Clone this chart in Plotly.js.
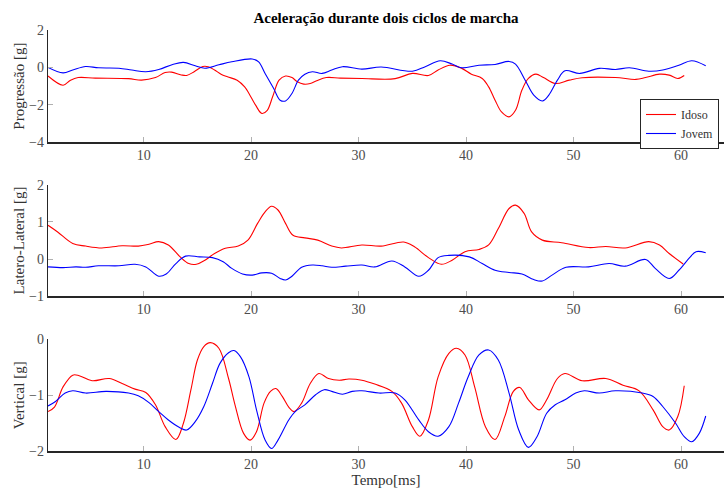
<!DOCTYPE html>
<html>
<head>
<meta charset="utf-8">
<script src="https://cdn.plot.ly/plotly-3.0.1.min.js"></script>
<style>html,body{margin:0;padding:0;background:#fff;}#chart{width:724px;height:490px;}</style>
</head>
<body>
<div id="chart"></div>
<script>
// ---- Data ----
const progIdosoX = [1.1,2.5,3.2,3.9,5.5,8.6,9.8,11.1,12.0,12.6,13.5,14.0,14.7,15.5,16.0,16.6,17.2,17.8,18.7,19.4,19.8,20.4,21.0,21.5,22.0,22.6,23.2,23.8,24.3,24.9,25.5,26.1,27.0,28.3,30.3,33.4,35.0,36.5,37.4,38.5,39.6,40.5,41.5,42.1,42.7,43.3,44.0,44.6,45.2,45.8,46.5,47.2,48.3,49.6,50.8,53.9,55.8,56.7,58.0,58.9,59.7,60.3];
const progIdosoY = [-0.46,-0.95,-0.68,-0.54,-0.57,-0.6,-0.68,-0.54,-0.27,-0.25,-0.4,-0.43,-0.23,0.05,0.04,-0.14,-0.36,-0.5,-0.68,-1.04,-1.39,-2.0,-2.46,-2.29,-1.57,-0.68,-0.46,-0.54,-0.77,-0.89,-0.86,-0.71,-0.54,-0.57,-0.59,-0.6,-0.32,-0.43,-0.14,0.12,-0.05,-0.36,-0.59,-1.04,-1.75,-2.38,-2.64,-2.29,-1.21,-0.59,-0.36,-0.54,-0.86,-0.68,-0.55,-0.54,-0.64,-0.54,-0.36,-0.41,-0.59,-0.43];
const progJovemX = [1.1,2.5,3.4,4.6,5.8,7.7,8.9,10.2,11.4,12.7,13.7,14.8,15.7,17.0,18.2,20.1,20.7,21.3,22.1,22.7,23.2,23.8,24.4,25.0,25.7,26.6,27.5,28.5,30.3,32.1,35.0,36.2,37.6,38.7,39.6,41.2,42.7,44.0,44.6,45.5,46.3,47.1,47.7,48.5,49.2,50.6,52.4,53.9,55.2,57.0,58.3,59.8,61.0,62.3];
const progJovemY = [0,-0.29,-0.14,0.05,-0.02,-0.04,-0.14,-0.23,-0.11,0.16,0.27,0.09,-0.04,0.14,0.3,0.45,0.3,-0.32,-1.13,-1.75,-1.79,-1.39,-0.68,-0.36,-0.23,-0.32,-0.14,0.04,-0.09,0.02,-0.2,0.04,0.36,0.18,-0.02,0.12,0.16,0.32,0.18,-0.68,-1.48,-1.79,-1.48,-0.68,-0.18,-0.32,-0.05,-0.11,-0.02,-0.2,-0.14,0.12,0.36,0.09];

const latIdosoX = [1.1,2.0,3.4,4.6,6.1,8.0,9.5,10.5,11.4,12.3,13.4,14.2,14.9,15.7,16.6,17.6,18.8,19.7,20.6,21.3,21.9,22.5,23.2,23.9,25.0,26.2,27.5,28.4,30.3,32.1,34.2,35.2,36.5,37.7,38.7,39.9,41.2,42.1,43.0,44.0,44.6,45.4,46.1,47.1,48.9,51.4,53.0,54.8,57.0,58.0,58.9,60.2];
const latIdosoY = [0.91,0.73,0.42,0.35,0.3,0.36,0.35,0.4,0.47,0.38,0.06,-0.12,-0.14,-0.03,0.15,0.29,0.35,0.51,0.96,1.27,1.42,1.32,0.96,0.64,0.57,0.51,0.35,0.3,0.38,0.35,0.46,0.33,0.04,-0.14,-0.03,0.2,0.26,0.38,0.82,1.36,1.45,1.23,0.73,0.51,0.44,0.31,0.34,0.3,0.47,0.38,0.15,-0.13];
const latJovemX = [1.1,2.5,3.7,4.6,5.8,7.7,9.2,10.2,11.4,12.1,13.0,13.9,15.2,16.4,17.4,18.2,19.2,20.1,21.0,21.9,22.7,23.2,23.8,24.7,25.7,26.6,27.5,28.8,30.3,31.5,33.1,34.3,35.6,36.5,37.4,38.4,40.3,41.5,42.7,44.0,45.2,46.3,47.1,48.0,49.3,51.4,53.3,54.8,56.7,57.6,58.9,59.8,60.8,61.4,62.3];
const latJovemY = [-0.21,-0.23,-0.21,-0.22,-0.18,-0.18,-0.14,-0.21,-0.46,-0.4,-0.12,0.08,0.06,0.04,-0.07,-0.25,-0.4,-0.43,-0.37,-0.38,-0.52,-0.56,-0.46,-0.22,-0.16,-0.18,-0.22,-0.19,-0.16,-0.21,-0.05,-0.21,-0.46,-0.3,0.04,0.1,0.06,-0.12,-0.3,-0.36,-0.4,-0.55,-0.59,-0.43,-0.22,-0.21,-0.12,-0.19,-0.01,-0.25,-0.52,-0.3,0.04,0.2,0.17];

const vertIdosoX = [1.1,1.7,2.5,3.4,4.0,5.2,6.8,8.0,9.2,10.2,11.1,12.0,13.0,13.7,14.4,15.0,15.6,16.2,17.0,17.9,18.5,19.3,19.9,20.5,21.2,21.8,22.3,22.9,23.5,24.0,24.7,25.5,26.3,27.2,28.2,29.1,30.3,31.5,33.1,34.0,35.0,35.7,36.5,37.4,38.4,39.1,39.9,40.8,41.8,42.7,43.6,44.4,45.0,45.8,46.8,47.5,48.5,49.2,50.8,53.0,54.6,56.1,57.4,58.3,58.9,59.7,60.3];
const vertIdosoY = [-1.29,-1.21,-0.85,-0.64,-0.65,-0.74,-0.7,-0.79,-0.89,-0.95,-1.17,-1.56,-1.79,-1.5,-0.9,-0.37,-0.13,-0.06,-0.16,-0.7,-1.17,-1.68,-1.8,-1.65,-1.14,-0.93,-0.88,-1.02,-1.21,-1.29,-1.14,-0.79,-0.61,-0.7,-0.73,-0.71,-0.73,-0.8,-0.93,-1.14,-1.56,-1.73,-1.44,-0.67,-0.25,-0.16,-0.28,-0.85,-1.56,-1.79,-1.38,-0.93,-0.86,-1.08,-1.26,-1.08,-0.7,-0.61,-0.74,-0.7,-0.82,-0.92,-1.26,-1.56,-1.62,-1.38,-0.83];
const vertJovemX = [1.1,1.8,2.7,3.4,4.6,6.5,8.6,9.5,10.5,11.4,12.3,13.3,14.0,14.8,15.6,16.4,17.1,17.9,18.4,19.0,19.8,20.5,21.3,21.9,22.5,23.5,24.1,25.0,26.0,26.8,27.5,28.5,29.4,30.3,31.9,33.4,34.3,35.6,36.5,37.4,38.4,39.3,40.2,41.2,42.1,43.0,44.0,44.9,45.8,46.6,47.5,48.3,49.2,50.2,51.0,52.4,53.9,56.4,57.4,58.3,59.5,60.3,61.0,61.7,62.3];
const vertJovemY = [-1.19,-1.11,-0.96,-0.92,-0.96,-0.93,-0.96,-1.01,-1.13,-1.29,-1.44,-1.57,-1.62,-1.47,-1.2,-0.79,-0.43,-0.24,-0.2,-0.31,-0.67,-1.26,-1.8,-1.95,-1.8,-1.44,-1.29,-1.17,-0.99,-0.9,-0.93,-0.98,-0.93,-0.92,-0.96,-0.96,-1.08,-1.44,-1.65,-1.73,-1.56,-1.14,-0.67,-0.28,-0.19,-0.37,-0.96,-1.62,-1.93,-1.74,-1.32,-1.17,-1.08,-0.96,-0.92,-0.96,-0.92,-0.96,-1.02,-1.2,-1.5,-1.74,-1.83,-1.68,-1.37];

const xTicks = [10,20,30,40,50,60];
const seriesNames = ['Idoso','Jovem'];
const titleText = 'Aceleração durante dois ciclos de marcha';
const yTitles = ['Progressão [g]','Latero-Lateral [g]','Vertical [g]'];
const xTitle = 'Tempo[ms]';

// ---- Build traces ----
const RED = '#ff0000', BLUE = '#0000ff';
function tr(x, y, name, color, xa, ya, show) {
  return {x: x, y: y, name: name, type: 'scatter', mode: 'lines',
    line: {color: color, width: 1.1, shape: 'spline', smoothing: 1},
    xaxis: xa, yaxis: ya, showlegend: show, hoverinfo: 'skip'};
}
const data = [
  tr(progIdosoX, progIdosoY, seriesNames[0], RED, 'x', 'y', true),
  tr(progJovemX, progJovemY, seriesNames[1], BLUE, 'x', 'y', true),
  tr(latIdosoX, latIdosoY, seriesNames[0], RED, 'x2', 'y2', false),
  tr(latJovemX, latJovemY, seriesNames[1], BLUE, 'x2', 'y2', false),
  tr(vertIdosoX, vertIdosoY, seriesNames[0], RED, 'x3', 'y3', false),
  tr(vertJovemX, vertJovemY, seriesNames[1], BLUE, 'x3', 'y3', false)
];

const FONT = '"Liberation Serif", serif';
const tickFont = {family: FONT, size: 14, color: '#4d4d4d'};
function xax(anchor, withTitle) {
  const a = {anchor: anchor, range: [1.1, 64], tickvals: xTicks, ticks: 'inside', ticklen: 5,
    tickcolor: '#b0b0b0', showline: true, linecolor: '#262626', linewidth: 1.2,
    showgrid: false, zeroline: false, tickfont: tickFont, automargin: false};
  if (withTitle) a.title = {text: xTitle, font: {family: FONT, size: 15, color: '#333'}, standoff: 2};
  return a;
}
function yax(anchor, domain, range, dtick, title) {
  return {anchor: anchor, domain: domain, range: range, dtick: dtick, ticks: 'inside', ticklen: 5,
    tickcolor: '#b0b0b0', showline: true, linecolor: '#262626', linewidth: 1.2,
    showgrid: false, zeroline: false, tickfont: tickFont, automargin: false,
    title: {text: title, font: {family: FONT, size: 15, color: '#333'}, standoff: 0}};
}
const H = 490;
const layout = {
  width: 724, height: 490,
  margin: {l: 48, r: 0, t: 0, b: 0, autoexpand: false},
  paper_bgcolor: '#fff', plot_bgcolor: '#fff',
  title: {text: '<b>' + titleText + '</b>', font: {family: FONT, size: 15, color: '#000'},
    xref: 'paper', x: 0.5, xanchor: 'center', yref: 'container', y: 1 - 18 / H, yanchor: 'middle'},
  xaxis: xax('y', false),
  xaxis2: xax('y2', false),
  xaxis3: xax('y3', true),
  yaxis: yax('x', [1 - 142.3 / H, 1 - 30 / H], [-4, 2], 2, yTitles[0]),
  yaxis2: yax('x2', [1 - 296.3 / H, 1 - 184.7 / H], [-1, 2], 1, yTitles[1]),
  yaxis3: yax('x3', [1 - 451.3 / H, 1 - 339.3 / H], [-2, 0], 1, yTitles[2]),
  showlegend: true,
  legend: {x: 719 / 724, xref: 'container', xanchor: 'right', y: 1 - 99 / H, yanchor: 'top',
    bgcolor: '#fff', bordercolor: '#262626', borderwidth: 1,
    font: {family: FONT, size: 12, color: '#333'}, itemwidth: 30, tracegroupgap: 0}
};
Plotly.newPlot('chart', data, layout, {displayModeBar: false, staticPlot: true});
</script>
</body>
</html>
